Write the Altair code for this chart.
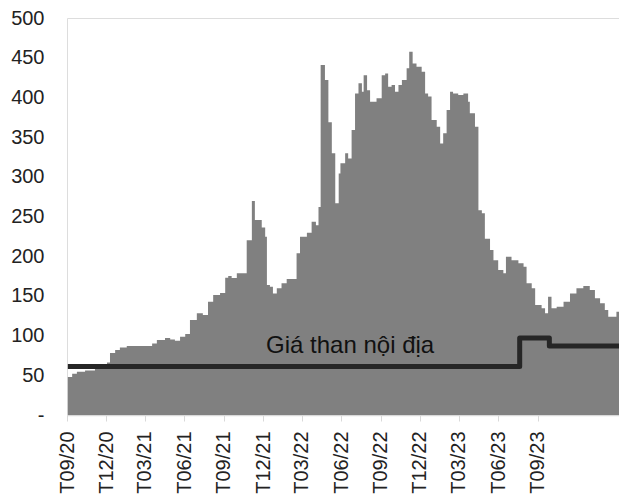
import altair as alt
import pandas as pd

# Giá than nhập khẩu (vùng xám)
import_dates = [
    "2020-09-03", "2020-09-13", "2020-09-24", "2020-10-13", "2020-11-05", "2020-11-24",
    "2020-12-03", "2020-12-10", "2020-12-22", "2021-01-02", "2021-01-18", "2021-02-11",
    "2021-03-09", "2021-03-18", "2021-03-29", "2021-04-17", "2021-04-29", "2021-05-10",
    "2021-05-22", "2021-06-03", "2021-06-14", "2021-06-30", "2021-07-14", "2021-07-26",
    "2021-08-07", "2021-08-23", "2021-09-04", "2021-09-11", "2021-09-19", "2021-10-01",
    "2021-10-20", "2021-10-24", "2021-11-05", "2021-11-12", "2021-11-20", "2021-11-28",
    "2021-12-06", "2021-12-10", "2021-12-17", "2021-12-24", "2022-01-02", "2022-01-13",
    "2022-01-25", "2022-02-09", "2022-02-17", "2022-02-25", "2022-03-13", "2022-03-24",
    "2022-04-03", "2022-04-09", "2022-04-14", "2022-04-24", "2022-05-02", "2022-05-10",
    "2022-05-18", "2022-05-26", "2022-05-30", "2022-06-10", "2022-06-17", "2022-06-25",
    "2022-07-03", "2022-07-11", "2022-07-19", "2022-07-23", "2022-07-31", "2022-08-07",
    "2022-08-22", "2022-09-03", "2022-09-11", "2022-09-18", "2022-09-26", "2022-10-04",
    "2022-10-12", "2022-10-20", "2022-10-31", "2022-11-06", "2022-11-14", "2022-11-23",
    "2022-12-05", "2022-12-13", "2022-12-20", "2022-12-28", "2023-01-09", "2023-01-17",
    "2023-01-24", "2023-02-01", "2023-02-09", "2023-02-16", "2023-02-28", "2023-03-12",
    "2023-03-23", "2023-03-27", "2023-04-08", "2023-04-16", "2023-04-24", "2023-05-01",
    "2023-05-13", "2023-05-21", "2023-06-01", "2023-06-13", "2023-06-19", "2023-07-02",
    "2023-07-18", "2023-07-30", "2023-08-06", "2023-08-18", "2023-08-26", "2023-09-10",
    "2023-09-18", "2023-09-25", "2023-10-03", "2023-10-15", "2023-10-31", "2023-11-15",
    "2023-11-30", "2023-12-16", "2023-12-31", "2024-01-12", "2024-01-24", "2024-02-04",
    "2024-02-12", "2024-02-24", "2024-03-02", "2024-03-08",
]
import_values = [
    48, 52, 54.5, 56, 58, 60,
    66, 78, 82, 85, 87, 87,
    87, 90, 94.5, 97, 95, 93.6,
    98.6, 102, 119.6, 128, 126, 142.7,
    151, 153.6, 173, 175, 172.5, 178.5,
    178.5, 220, 269.5, 245.6, 245.6, 236,
    224.6, 163.7, 161.6, 153, 159.6, 165.9,
    171.3, 171.3, 203.6, 224.6, 229.6, 243.5,
    239, 262, 440.8, 422, 368.6, 329.6,
    266.6, 304, 317, 329.6, 323, 359,
    405, 417.7, 407, 428, 409, 394.6,
    398.8, 428, 430, 413.5, 415.6, 407,
    415.6, 421.9, 436.6, 457.6, 442.7, 438.7,
    432.4, 405, 401, 371.5, 363, 342,
    354.8, 384, 407, 405, 403, 405,
    394.6, 380, 363, 258, 254, 222,
    207.8, 195, 182.6, 178.5, 199.4, 195,
    191, 186.8, 165.9, 159.6, 138.5, 134.4,
    128, 149, 134.4, 136.4, 142.7, 153,
    159.6, 162.5, 157.4, 147, 140.7, 132.2,
    123.8, 123.8, 130, 128,
]

# Giá than nội địa (đường)
domestic_dates = ["2020-09-03", "2023-07-21", "2023-09-28", "2024-03-08"]
domestic_values = [61, 97, 87, 87]

# Nhãn
label_text = ["Giá than  nội địa"]
label_dates = ["2021-12-08"]
label_values = [78]

# Trục
y_ticks = [0, 50, 100, 150, 200, 250, 300, 350, 400, 450, 500]
x_tick_dates = ["2020-09-01", "2020-12-01", "2021-03-01", "2021-06-01", "2021-09-01",
                "2021-12-01", "2022-03-01", "2022-06-01", "2022-09-01", "2022-12-01",
                "2023-03-01", "2023-06-01", "2023-09-01"]

df_imp = pd.DataFrame({"date": import_dates, "value": import_values})
df_dom = pd.DataFrame({"date": domestic_dates, "value": domestic_values})
df_lab = pd.DataFrame({"date": label_dates, "value": label_values, "text": label_text})

FONT = "Liberation Sans"

x_scale = alt.Scale(type="utc",
                    domain=[alt.DateTime(year=2020, month=9, date=1, utc=True),
                            alt.DateTime(year=2024, month=3, date=8, utc=True)],
                    nice=False)
y_scale = alt.Scale(domain=[0, 500], nice=False)

x_axis = alt.Axis(
    values=[alt.DateTime(year=int(d[:4]), month=int(d[5:7]), date=1, utc=True) for d in x_tick_dates],
    labelExpr="'T' + utcFormat(datum.value, '%m/%y')",
    labelAngle=270, labelFontSize=20,
    labelColor="#222222", labelFont=FONT, labelPadding=10, tickSize=6,
    tickColor="#d9d9d9", domainColor="#d9d9d9", domainWidth=1.5, grid=False, title=None,
    labelAlign="right", labelBaseline="middle", labelOverlap=False,
)
y_axis = alt.Axis(
    values=y_ticks, labelExpr="datum.value == 0 ? '-' : datum.label",
    labelFontSize=20, labelColor="#222222", labelFont=FONT, labelPadding=23,
    ticks=False, domain=False, grid=False, title=None, labelOverlap=False,
)

area = alt.Chart(df_imp).mark_area(interpolate="step-after", color="#808080").encode(
    x=alt.X("date:T", scale=x_scale, axis=x_axis),
    y=alt.Y("value:Q", scale=y_scale, axis=y_axis),
)

line = alt.Chart(df_dom).mark_line(
    interpolate="step-after", color="#262626", strokeWidth=5, strokeJoin="round"
).encode(
    x=alt.X("date:T", scale=x_scale, axis=x_axis),
    y=alt.Y("value:Q", scale=y_scale, axis=y_axis),
)

label = alt.Chart(df_lab).mark_text(
    align="left", baseline="alphabetic", fontSize=24, font=FONT, color="#111111"
).encode(
    x=alt.X("date:T", scale=x_scale, axis=x_axis),
    y=alt.Y("value:Q", scale=y_scale, axis=y_axis),
    text="text:N",
)

chart = alt.layer(area, line, label).properties(
    width=552, height=397,
    autosize=alt.AutoSizeParams(type="none"),
    padding={"left": 67, "top": 18, "right": 0, "bottom": 85},
).configure_view(stroke=None).configure(background="white")

chart.save("out.html", embed_options={"renderer": "svg", "actions": False})
